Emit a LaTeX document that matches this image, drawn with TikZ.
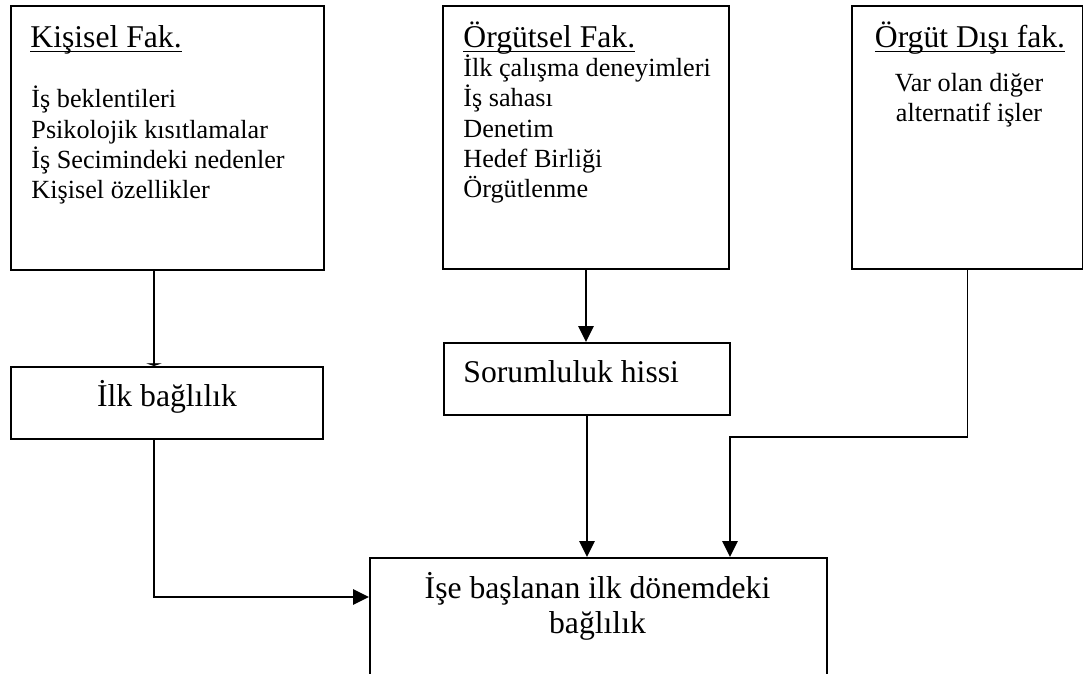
\documentclass[tikz,border=0pt]{standalone}
\usepackage{fontspec}
\setmainfont{Liberation Serif}
\usetikzlibrary{arrows.meta}

\newdimen\pxu
\pxu=0.458pt

\tikzset{
        base/.style={draw, line width=0.9pt, inner sep=0pt, anchor=north west},
        kutu/.style={base},
        yazi/.style={inner sep=0pt, font=\fontsize{12}{13.9}\selectfont},
        baslik/.style={inner sep=0pt, font=\fontsize{14.5}{16}\selectfont},
        myline/.style={-{Triangle[length=1.2pt, width=7pt]}, line width=0.9pt},
        myarrow/.style={-{Triangle[length=7.3pt, width=7pt]}, line width=0.9pt},
 }

\begin{document}
\begin{tikzpicture}[x=0.458pt, y=-0.458pt]
    \useasboundingbox (0,0) rectangle (1083,674);
    \clip (0,0) rectangle (1083,674);

    % kutular
    \node[kutu, minimum width=313\pxu, minimum height=264\pxu] (kisisel) at (10,5) {};
    \node[kutu, minimum width=286\pxu, minimum height=263\pxu] (orgutsel) at (442,5) {};
    \node[kutu, minimum width=231\pxu, minimum height=263\pxu] (orgutdisi) at (851,5) {};
    \node[kutu, minimum width=312\pxu, minimum height=72\pxu] (ilk) at (10,366) {};
    \node[kutu, minimum width=286\pxu, minimum height=72\pxu] (sorumluluk) at (443,342) {};
    \node[kutu, minimum width=457\pxu, minimum height=170\pxu] (donem) at (369,557) {};

    % yazilar (cok satirda base = son satir)
    \node[baslik, anchor=base west] (kisiselbaslik) at (30,48) {\underline{\smash{Kişisel Fak.}}};
    \node[yazi, anchor=base west, align=left] (kisiselliste) at (31,199)
         {İş beklentileri\\Psikolojik kısıtlamalar\\İş Secimindeki nedenler\\Kişisel özellikler};
    \node[baslik, anchor=base west] (orgutselbaslik) at (463,48) {\underline{\smash{Örgütsel Fak.}}};
    \node[yazi, anchor=base west, align=left] (orgutselliste) at (463,198)
         {İlk çalışma deneyimleri\\İş sahası\\Denetim\\Hedef Birliği\\Örgütlenme};
    \node[baslik, anchor=base] (orgutdisibaslik) at (970,48) {\underline{\smash{Örgüt Dışı fak.}}};
    \node[yazi, anchor=base, align=center] (orgutdisiliste) at (969,122)
         {Var olan diğer\\alternatif işler};
    \node[baslik, anchor=base] (ilkyazi) at (167,407) {İlk bağlılık};
    \node[baslik, anchor=base west] (sorumlulukyazi) at (463,383) {Sorumluluk hissi};
    \node[baslik, anchor=base, align=center] (donemyazi) at (597.5,633)
         {İşe başlanan ilk dönemdeki\\bağlılık};

    \coordinate (khat) at (154,0);
    \coordinate (ok) at (0,597);
    \coordinate (dirsek) at (730,437);

    \draw[myline] (kisisel.south -| khat) -- (ilk.north -| khat);
    \draw[myarrow] (orgutsel.south) -- (orgutsel.south |- sorumluluk.north);
    \draw[myarrow] (ilk.south -| khat) |- (donem.west |- ok);
    \draw[myarrow] (sorumluluk.south) -- (sorumluluk.south |- donem.north);
    \draw[myarrow] (orgutdisi.south) |- (dirsek) -- (dirsek |- donem.north);
\end{tikzpicture}
\end{document}
